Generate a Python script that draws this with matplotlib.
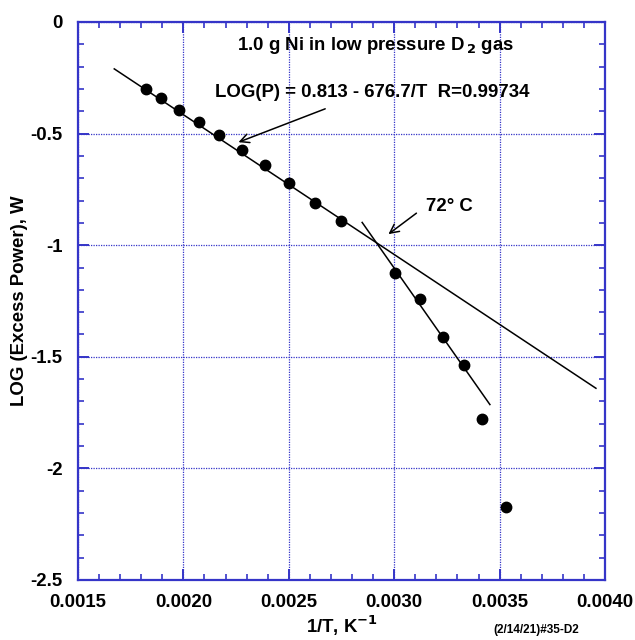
import matplotlib
matplotlib.use("Agg")
import matplotlib.pyplot as plt
from matplotlib.ticker import MultipleLocator, FixedLocator

# Data
inv_T = [0.001821, 0.001894, 0.001981, 0.002075, 0.002171, 0.002280, 0.002389,
         0.002502, 0.002624, 0.002749, 0.003002, 0.003122, 0.003231, 0.003333,
         0.003418, 0.003530]
log_P = [-0.301, -0.342, -0.395, -0.446, -0.507, -0.574, -0.640, -0.722, -0.809,
         -0.891, -1.125, -1.241, -1.411, -1.537, -1.779, -2.174]

fit1_x = [0.001672, 0.003957]
fit1_y = [-0.210, -1.641]
fit2_x = [0.002848, 0.003454]
fit2_y = [-0.898, -1.714]

x_ticks = [0.0015, 0.0020, 0.0025, 0.0030, 0.0035, 0.0040]
x_ticklabels = ["0.0015", "0.0020", "0.0025", "0.0030", "0.0035", "0.0040"]
y_ticks = [0, -0.5, -1, -1.5, -2, -2.5]
y_ticklabels = ["0", "-0.5", "-1", "-1.5", "-2", "-2.5"]

plt.rcParams['font.family'] = ['Liberation Sans', 'DejaVu Sans']
plt.rcParams['font.weight'] = 'bold'
plt.rcParams['mathtext.default'] = 'bf'

blue = '#3535c8'
fs = 13.4

fig = plt.figure(figsize=(6.35, 6.40), dpi=100)
ax = fig.add_axes([78/635, 1-580/640, (605-78)/635, (580-22)/640])

ax.set_xlim(0.0015, 0.0040)
ax.set_ylim(-2.5, 0)

ax.xaxis.set_major_locator(FixedLocator(x_ticks))
ax.set_xticklabels(x_ticklabels)
ax.yaxis.set_major_locator(FixedLocator(y_ticks))
ax.set_yticklabels(y_ticklabels)
ax.xaxis.set_minor_locator(MultipleLocator(0.0001))
ax.yaxis.set_minor_locator(MultipleLocator(0.1))

ax.grid(True, which='major', color=blue, linestyle=(0, (1, 1)), linewidth=0.9)
for s in ax.spines.values():
    s.set_color(blue)
    s.set_linewidth(1.6)

ax.tick_params(which='both', direction='in', top=True, right=True, color=blue)
ax.tick_params(which='major', length=8, width=1.4, labelsize=fs)
ax.tick_params(which='minor', length=4, width=1.2)
ax.tick_params(axis='x', which='major', pad=10)
ax.tick_params(axis='y', which='major', pad=11)

ax.plot(fit1_x, fit1_y, color='black', linewidth=1.1, zorder=3)
ax.plot(fit2_x, fit2_y, color='black', linewidth=1.1, zorder=3)
ax.plot(inv_T, log_P, 'o', color='black', markersize=7.5, zorder=4, clip_on=False)

ax.text(0.00291, -0.107, "1.0 g Ni in low pressure D$_{\\,2}$ gas", ha='center', va='center',
        fontsize=fs, fontweight='bold')
ax.text(0.002897, -0.318, "LOG(P) = 0.813 - 676.7/T  R=0.99734", ha='center', va='center',
        fontsize=fs, fontweight='bold')
ax.text(0.00326, -0.827, "72° C", ha='center', va='center', fontsize=fs, fontweight='bold')

ax.annotate("", xy=(0.002249, -0.543), xytext=(0.002685, -0.3845),
            arrowprops=dict(arrowstyle='->', color='black', lw=1.1, mutation_scale=16))
ax.annotate("", xy=(0.002962, -0.958), xytext=(0.003116, -0.849),
            arrowprops=dict(arrowstyle='->', color='black', lw=1.1, mutation_scale=16))

ax.set_xlabel("1/T, K$^{-1}$", fontsize=fs, fontweight='bold', labelpad=2)
ax.set_ylabel("LOG (Excess Power), W", fontsize=fs, fontweight='bold', labelpad=2)

fig.text(536/635, 1-630/640, "(2/14/21)#35-D2", ha='center', va='center', fontsize=8.5,
         fontweight='bold')

fig.savefig("out.png", dpi=100)
